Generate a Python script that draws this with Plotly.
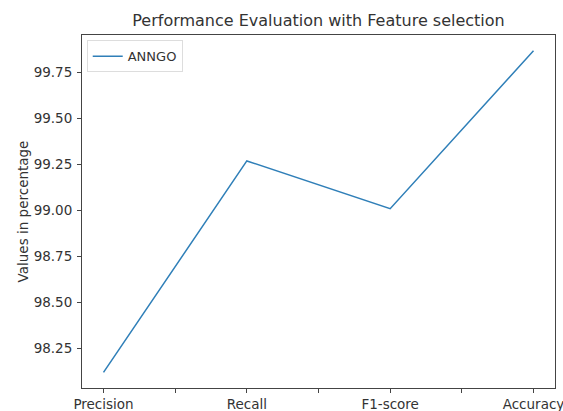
import plotly.graph_objects as go

categories = ["Precision", "Recall", "F1-score", "Accuracy"]
values = [98.12, 99.27, 99.01, 99.87]
series_name = "ANNGO"
y_ticks = [98.25, 98.50, 98.75, 99.00, 99.25, 99.50, 99.75]

x_pos = list(range(len(categories)))
tickvals = [i * 0.5 for i in range(2 * len(categories) - 1)]
ticktext = [categories[int(v)] if v == int(v) else "" for v in tickvals]

fig = go.Figure()
fig.add_trace(go.Scatter(x=x_pos, y=values, mode="lines", name=series_name,
                         line=dict(color="#2f7fb8", width=1.5)))

font = "DejaVu Sans"
fig.update_layout(
    width=563, height=411,
    margin=dict(l=82, r=8, t=35, b=23),
    paper_bgcolor="white", plot_bgcolor="white",
    font=dict(family=font, size=13, color="#333333"),
    title=dict(text="Performance Evaluation with Feature selection",
               x=(82 + 555) / 2 / 563, xanchor="center", y=1 - 20 / 411, yanchor="middle",
               font=dict(size=16, color="#333333")),
    showlegend=True,
    legend=dict(x=0.01, y=0.985, xanchor="left", yanchor="top",
                bgcolor="rgba(255,255,255,0.8)", bordercolor="#dddddd", borderwidth=1,
                font=dict(size=13)),
    xaxis=dict(range=[-0.15, 3.15], tickmode="array", tickvals=tickvals, ticktext=ticktext,
               showgrid=False, zeroline=False, showline=True, linecolor="#444444", linewidth=1,
               mirror=True, ticks="outside", ticklen=4, tickcolor="#444444", automargin=False,
               ticklabeloverflow="allow", tickfont=dict(size=13.5)),
    yaxis=dict(range=[98.035, 99.955], tickmode="array", tickvals=y_ticks,
               ticktext=[f"{v:.2f}" for v in y_ticks],
               title=dict(text="Values in percentage", font=dict(size=13.5), standoff=1),
               showgrid=False, zeroline=False, showline=True, linecolor="#444444", linewidth=1,
               mirror=True, ticks="outside", ticklen=4, tickcolor="#444444", automargin=False,
               ticklabelstandoff=2, tickfont=dict(size=13.5)),
)

fig.write_html("out.html", config={"displayModeBar": False},
               post_script="document.body.style.margin='0';")
